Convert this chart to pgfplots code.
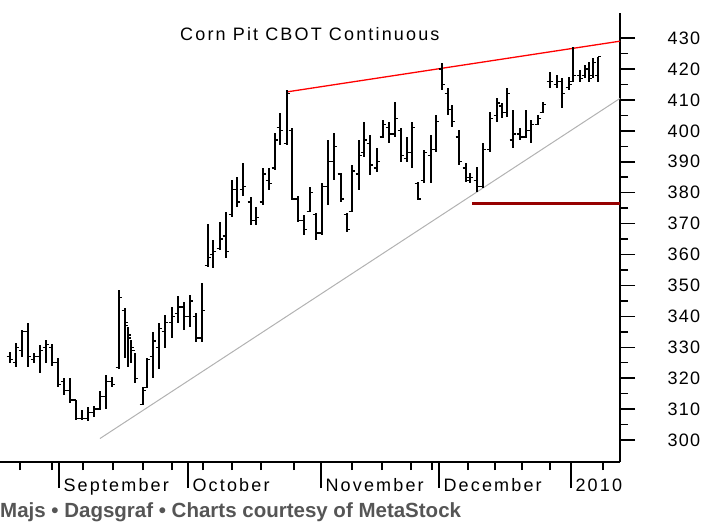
\documentclass[border=0pt]{standalone}
\usepackage{pgfplots}
\pgfplotsset{compat=1.18}
\usepackage{pgfplotstable}
\usepackage{fontspec}
\setmainfont{Liberation Sans}
\newfontfamily\chartfont[LetterSpace=12]{Liberation Sans}
\newfontfamily\numfont[LetterSpace=7]{Liberation Sans}
\definecolor{darkred}{RGB}{150,0,0}
\definecolor{footgray}{RGB}{85,85,85}
\pgfdeclareplotmark{otick}{\pgfpathmoveto{\pgfqpoint{-3.4pt}{0pt}}\pgfpathlineto{\pgfqpoint{0pt}{0pt}}\pgfusepathqstroke}
\pgfdeclareplotmark{ctick}{\pgfpathmoveto{\pgfqpoint{0pt}{0pt}}\pgfpathlineto{\pgfqpoint{3.4pt}{0pt}}\pgfusepathqstroke}

\pgfplotstableread{
x o h l c
10 327 328.5 325 326
16 325 331.4 323.6 330
22 329 335.6 327 335
28 335 338 323.6 327
34 326 328 325 327
40 327 330.7 321.7 329
46 330 332.4 325 331
52 330 331 324 325
58 325 326.5 317 318
64 319 320 314.5 316
70 316 320 312 313
76 313 313 306.5 307
82 307 309.7 306.5 307
88 307 310.7 306 309
94 309 311 307.5 310
100 310 316 309.7 314
106 314 321 310 319
112 319 320.5 317 318
119 323.5 348.5 323 346
125 342 342.7 326.5 338
128 337 336.6 323.6 334
131 333 332.4 325 330
135 329 328 318.4 320
143 311.5 317 311.3 316
147 317 326.5 316.8 326
153 327 335 320 332
159 330 338 323 336
165 335 340.4 329.8 338
172 338 343 333 340
178 341 346.6 337.8 343
184 343 344.7 335.6 340
190 340 347 336.6 345
196 340 341 331.7 333
202 333 350.8 331.7 342
208 356.5 370 356 359
213 360 364.7 355.7 361
220 362 370.5 361.5 365
226 366 373.8 359 361
232 373 384 372 381
237 381 385 375.4 377
243 381 389.6 379 382
251 377 378.6 369.6 371
256 371 375.4 369.6 372
263 377 388 376 386
269 384 388 381 383
275 388 399.4 387.4 397
280 401 405.8 395.5 400
287 396 413.3 395.5 412
292 400 401 377.7 378
298 378 379 370.5 371
304 371 372.8 366.3 368
310 374 381.9 373.8 380
316 373 373.5 364.7 367
322 367 383 366.3 382
328 382 397 376 390
334 390 399.4 384 395
341 386 386.4 377 378
347 373 373.5 367.3 368
352 374 389 373.8 387
359 386 397 380.9 392
364 393 403 391.6 397
370 396 398.7 385.8 389
377 388 394.5 386.7 390
383 398 403.6 397.7 402
389 401 403 396 399
395 399 409.4 398 404
401 400 401 390 392
407 391 398 390 393
412 393 403 388 401
418 383 383.5 377.7 378
424 384 393.8 383 393
431 392 398.7 383 394
436 394 405 393 403
442 420 422 413.3 415
448 412 414 405 407
452 407 408.4 401.3 403
459 398 400.3 389 390
466 388 389.6 383.5 385
470 384 386.4 383 385
477 384 388.3 380.3 382
483 382 396 381.5 394
490 394 406 393 404
497 405 410.6 403 409
502 408 409 404 406
507 406 414 404.5 412
513 397 406.8 394.5 399
520 399 401 397 398
526 398 406.8 397.7 400
531 400 403.6 396 402
538 402 405 402 404
543 406 409.4 405.8 408.5
550 416 419 414 416
557 415 418 414 416
562 416 417 407.4 412
569 414 417.5 413.3 415
573 416 427 415.8 418
580 418 419.7 415.8 417
585 418 421.4 417 420
589 420 422.3 415.8 417
593 418 423.6 417 422
598 418 424 415.8 424
}\bars

\begin{document}
\begin{tikzpicture}
\path[use as bounding box] (0pt,-60pt) rectangle (708pt,462pt);
\begin{axis}[
  at={(0pt,0pt)}, anchor=south west,
  x=1pt, y=3.092pt,
  xmin=0, xmax=620, ymin=292.9, ymax=438.2,
  axis x line=bottom, axis y line=right,
  axis line style={-, line width=1.6pt, black},
  tick align=outside,
  every tick/.style={black, line width=1.5pt},
  major tick length=15pt, minor tick length=8pt,
  ytick={300,310,...,430}, minor y tick num=1,
  yticklabel style={font=\numfont\fontsize{18}{18}\selectfont, anchor=west, xshift=29pt},
  /pgf/number format/assume math mode=true,
  xtick={59,188,321,439,571},
  xticklabels={September,October,November,December,2010},
  xticklabel style={font=\chartfont\fontsize{18}{18}\selectfont, anchor=north west, xshift=1pt, yshift=2pt},
  minor xtick={20,52,83,113,143,172,203,232,261,294,352,382,411,432,468,495,522,550,603},
  extra x ticks={59,188,321,439,571},
  extra x tick labels={},
  extra x tick style={major tick length=26pt},
  clip=false,
]
\addplot[red, line width=1.3pt] coordinates {(287,412.6) (620,429)};
\addplot[gray!60, line width=1pt] coordinates {(100,300.5) (620,410.5)};
\addplot[darkred, line width=3.2pt] coordinates {(472,376.5) (620,376.5)};
\addplot[draw=none, mark=none, error bars/.cd, y dir=both, y explicit, error mark=none,
  error bar style={black, line width=1.3pt}]
  table[x=x, y expr={(\thisrow{h}+\thisrow{l})/2}, y error expr={(\thisrow{h}-\thisrow{l})/2}] {\bars};
\addplot[only marks, mark=otick, mark options={black, line width=1.3pt}] table[x=x, y=o] {\bars};
\addplot[only marks, mark=ctick, mark options={black, line width=1.3pt}] table[x=x, y=c] {\bars};
\end{axis}
\node[anchor=base west, inner sep=0pt, font=\chartfont\fontsize{18}{18}\selectfont] at (180pt,421pt) {Corn Pit CBOT Continuous};
\node[anchor=base west, inner sep=0pt, text=footgray, font=\bfseries\fontsize{20.5}{20.5}\selectfont] at (0pt,-55pt) {Majs • Dagsgraf • Charts courtesy of MetaStock};
\end{tikzpicture}
\end{document}
